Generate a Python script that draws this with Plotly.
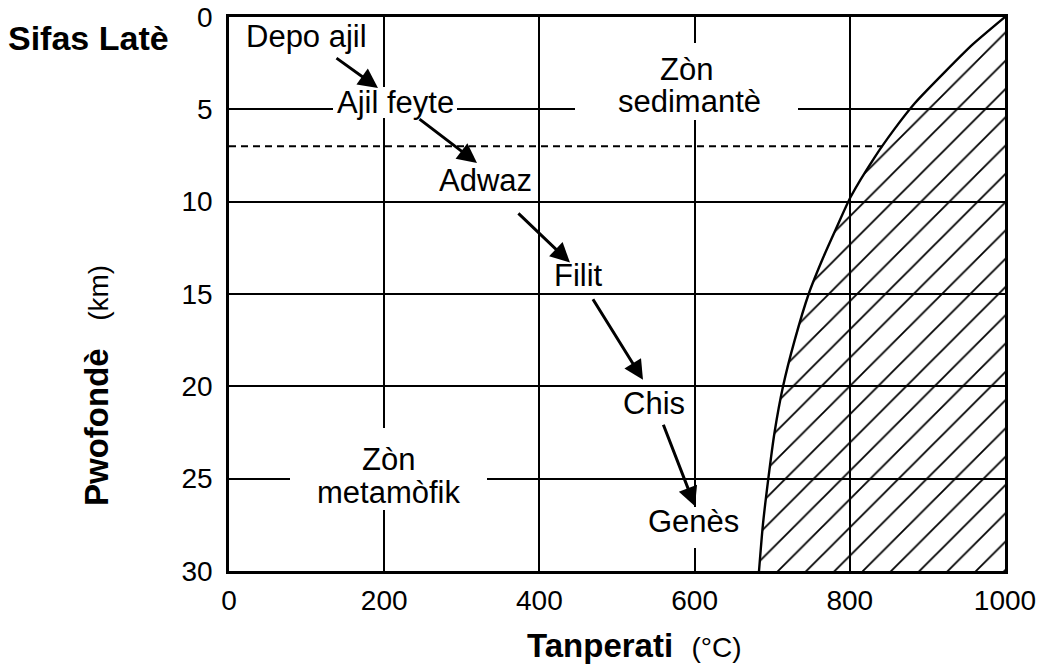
import numpy as np
import plotly.graph_objects as go

# ---------------- data ----------------
# melting curve: depth (km) and temperature (°C)
curve_depth = [0, 1.5, 3, 4.66, 6.1, 7.6, 9.75, 11.4, 13, 15, 17.5, 20, 22.5, 25, 27.5, 30]
curve_temp = [1000, 958, 922, 884, 857, 832, 801, 783, 766, 747, 729, 714, 703, 695, 688, 683]

boundary_depth = 7.0  # sedimentary / metamorphic boundary (km)

x_ticks = [0, 200, 400, 600, 800, 1000]
y_ticks = [0, 5, 10, 15, 20, 25, 30]

# rock sequence labels (temperature, depth)
rock_labels = ["Depo ajil", "Ajil feyte", "Adwaz", "Filit", "Chis", "Genès"]
rock_temp = [99.9, 214.2, 330.5, 450.4, 547.7, 599.2]
rock_depth = [1.03, 4.63, 8.88, 14.02, 20.95, 27.34]

# arrows between successive rocks
arrow_from_temp = [136.6, 243.6, 371.0, 467.8, 559.0]
arrow_from_depth = [2.17, 5.47, 10.56, 15.2, 22.0]
arrow_to_temp = [192.0, 319.6, 439.4, 533.5, 600.5]
arrow_to_depth = [3.84, 7.9, 13.3, 19.65, 26.5]

# zone labels
zone_labels = ["Zòn", "sedimantè", "Zòn", "metamòfik"]
zone_temp = [589.0, 594.0, 204.9, 204.9]
zone_depth = [2.82, 4.6, 23.98, 25.77]

# white label backgrounds that interrupt the grid (temp, depth, width px, height px)
mask_temp = [214.2, 589.6, 205.5, 600.5]
mask_depth = [4.63, 3.49, 24.47, 27.64]
mask_w = [124, 223, 197, 95]
mask_h = [31, 77, 82, 41]

FONT = "Arial, Liberation Sans, Helvetica, sans-serif"

fig = go.Figure()

# hatched region beyond the melting curve
fig.add_trace(go.Scatter(
    x=curve_temp + [1000], y=curve_depth + [30],
    mode="lines", fill="toself", line=dict(width=0, color="black"),
    fillcolor="rgba(0,0,0,0)",
    fillpattern=dict(shape="/", fgcolor="black", bgcolor="rgba(0,0,0,0)", fgopacity=1,
                     size=20, solidity=0.09),
    hoverinfo="skip", showlegend=False))

# melting curve
fig.add_trace(go.Scatter(
    x=curve_temp, y=curve_depth, mode="lines",
    line=dict(color="black", width=2.4, shape="spline", smoothing=0.6),
    hoverinfo="skip", showlegend=False))

# dashed boundary line
end_temp = float(np.interp(boundary_depth, curve_depth, curve_temp))
fig.add_trace(go.Scatter(
    x=[0, end_temp], y=[boundary_depth, boundary_depth], mode="lines",
    line=dict(color="black", width=2, dash="7px,5px"),
    hoverinfo="skip", showlegend=False))

ann = []
for t, d, w, h in zip(mask_temp, mask_depth, mask_w, mask_h):
    ann.append(dict(x=t, y=d, xref="x", yref="y", text=" ", showarrow=False,
                    xanchor="center", yanchor="middle",
                    width=w, height=h, bgcolor="white", borderpad=0, borderwidth=0))
for lab, t, d in zip(rock_labels, rock_temp, rock_depth):
    ann.append(dict(x=t, y=d, xref="x", yref="y", text=lab, showarrow=False,
                    xanchor="center", yanchor="middle",
                    font=dict(family=FONT, size=31, color="black")))
for lab, t, d in zip(zone_labels, zone_temp, zone_depth):
    ann.append(dict(x=t, y=d, xref="x", yref="y", text=lab, showarrow=False,
                    xanchor="center", yanchor="middle",
                    font=dict(family=FONT, size=31, color="black")))
for x0, y0, x1, y1 in zip(arrow_from_temp, arrow_from_depth, arrow_to_temp, arrow_to_depth):
    ann.append(dict(x=x1, y=y1, ax=x0, ay=y0, xref="x", yref="y", axref="x", ayref="y",
                    text="", showarrow=True, arrowhead=2, arrowsize=1.3, arrowwidth=3,
                    arrowcolor="black", standoff=0, startstandoff=0))

# titles
ann.append(dict(x=0.5226, y=-0.1336, xref="paper", yref="paper", showarrow=False,
                xanchor="center", yanchor="middle",
                text="<b>Tanperati</b>&nbsp;&nbsp;<span style='font-size:28px'>(°C)</span>",
                font=dict(family=FONT, size=33, color="black")))
ann.append(dict(x=-0.1714, y=0.3357, xref="paper", yref="paper", showarrow=False, textangle=-90,
                xanchor="center", yanchor="middle",
                text="<b>Pwofondè</b>&nbsp;&nbsp;&nbsp;<span style='font-size:28px'>(km)</span>",
                font=dict(family=FONT, size=33, color="black")))
ann.append(dict(x=-0.1805, y=0.962, xref="paper", yref="paper", showarrow=False,
                xanchor="center", yanchor="middle",
                text="<b>Sifas Latè</b>",
                font=dict(family=FONT, size=34, color="black")))

fig.update_layout(
    width=1045, height=667,
    margin=dict(l=229, r=40, t=17, b=96, autoexpand=False),
    paper_bgcolor="white", plot_bgcolor="white",
    annotations=ann,
    xaxis=dict(range=[0, 1000], tickvals=x_ticks, ticktext=[str(v) for v in x_ticks],
               showgrid=True, gridcolor="black", gridwidth=2, zeroline=False,
               showline=True, mirror=True, linecolor="black", linewidth=2.5,
               ticks="", ticklabelstandoff=3, automargin=False, ticklabeloverflow="allow",
               tickfont=dict(family=FONT, size=28, color="black")),
    yaxis=dict(range=[30, 0], tickvals=y_ticks, ticktext=[str(v) for v in y_ticks],
               showgrid=True, gridcolor="black", gridwidth=2, zeroline=False,
               showline=True, mirror=True, linecolor="black", linewidth=2.5,
               ticks="", ticklabelstandoff=8, automargin=False, ticklabeloverflow="allow",
               tickfont=dict(family=FONT, size=28, color="black")),
)

# remove the page's default body margin so the figure fills the window exactly
fig.write_html("out.html", config={"displayModeBar": False},
               post_script="document.body.style.margin='0';document.body.style.overflow='hidden';")
